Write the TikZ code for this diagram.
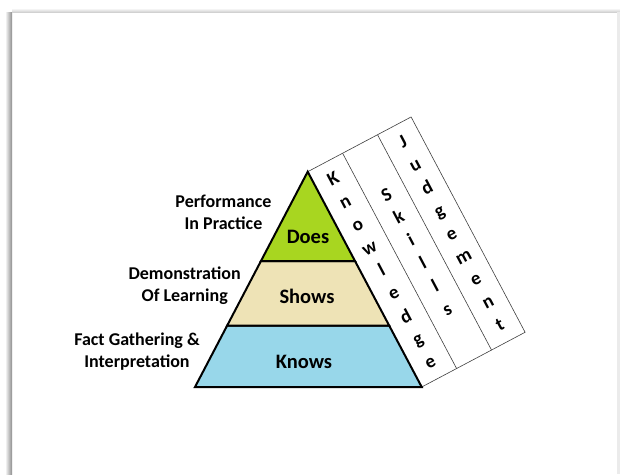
\documentclass[tikz,border=0pt]{standalone}
\usepackage{fontspec}
\setmainfont{Carlito}
\usetikzlibrary{calc}
\definecolor{doesgreen}{RGB}{168,214,32}
\definecolor{showsbeige}{RGB}{238,227,182}
\definecolor{knowsblue}{RGB}{152,215,234}
\tikzset{
  level/.style={draw=black, line width=2pt, line join=miter},
  sidelabel/.style={align=center, font=\fontsize{18}{21.7}\selectfont\bfseries, inner sep=0pt},
  levellabel/.style={font=\fontsize{20.5}{24}\selectfont\bfseries, inner sep=0pt},
  strip/.style={draw=black!75, line width=0.6pt},
  stripletters/.style={rotate=27.9, align=center, inner sep=0pt,
    font=\fontsize{19}{25.9}\selectfont\bfseries}
}
\begin{document}
\begin{tikzpicture}[x=1pt, y=-1pt]
  \useasboundingbox (0,0) rectangle (620,474);
  \fill[white] (0,0) rectangle (620,474);
  % soft frame shadow
  \shade[left color=white, right color=black!45] (5,12) rectangle (12,474);
  \shade[top color=white, bottom color=black!18] (12,8) rectangle (620,12);
  \fill[black!8] (617,12) rectangle (620,474);

  % pyramid corners
  \coordinate (A) at (307.7,171.7);
  \coordinate (L) at (195,387);
  \coordinate (R) at (421.7,387);
  \coordinate (L1) at ($(A)!0.4148!(L)$);
  \coordinate (R1) at ($(A)!0.4148!(R)$);
  \coordinate (L2) at ($(A)!0.7153!(L)$);
  \coordinate (R2) at ($(A)!0.7153!(R)$);

  % side panel with three columns, lying against the right face
  \coordinate (T1) at ($(A)!39.5pt!90:(R)$);
  \coordinate (T2) at ($(A)!79pt!90:(R)$);
  \coordinate (T3) at ($(A)!117pt!90:(R)$);
  \coordinate (B1) at ($(R)!39.5pt!-90:(A)$);
  \coordinate (B2) at ($(R)!79pt!-90:(A)$);
  \coordinate (B3) at ($(R)!117pt!-90:(A)$);
  \draw[strip] (A) -- (T3) -- (B3) -- (R);
  \draw[strip] (T1) -- (B1);
  \draw[strip] (T2) -- (B2);

  % pyramid levels
  \filldraw[level, fill=knowsblue] (L2) -- (R2) -- (R) -- (L) -- cycle;
  \filldraw[level, fill=showsbeige] (L1) -- (R1) -- (R2) -- (L2) -- cycle;
  \filldraw[level, fill=doesgreen] (A) -- (R1) -- (L1) -- cycle;

  \node[levellabel] (does) at (308,236.7) {Does};
  \node[levellabel] (shows) at (307,296.7) {Shows};
  \node[levellabel] (knows) at (304,362.3) {Knows};

  \node[sidelabel] (perf) at (223.5,212) {Performance\\In Practice};
  \node[sidelabel] (demo) at (184.7,286) {Demonstration\\Of Learning};
  \node[sidelabel] (fact) at (137,351.5) {Fact Gathering \&\\Interpretation};

  % stacked letters in each column
  \coordinate (M) at ($(A)!0.5!(R)$);
  \node[stripletters] (knowledge) at ($(M)!19pt!90:(R)$)
    {K\\n\\o\\w\\l\\e\\d\\g\\e};
  \node[stripletters] (skills) at ($(M)!59pt!90:(R)$)
    {S\\k\\i\\l\\l\\s};
  \node[stripletters] (judgement) at ($(M)!98pt!90:(R)$)
    {J\\u\\d\\g\\e\\m\\e\\n\\t};
\end{tikzpicture}
\end{document}
